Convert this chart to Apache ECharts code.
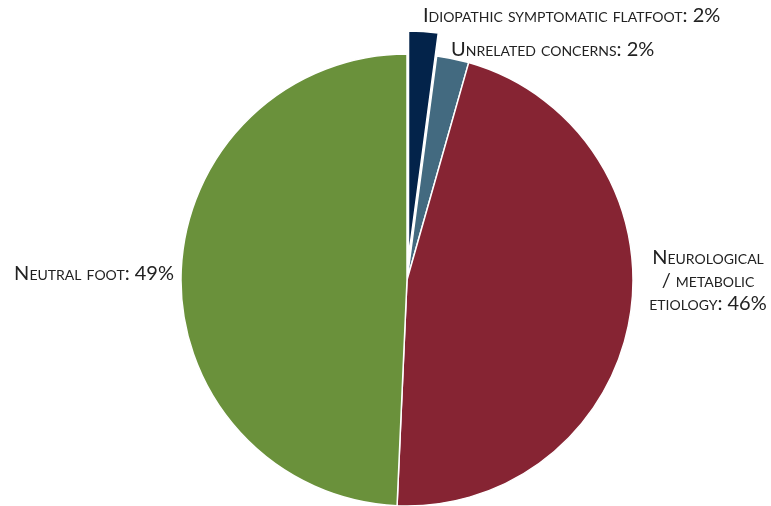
<!DOCTYPE html>
<html>
<head>
<meta charset="utf-8">
<style>
  html, body { margin: 0; padding: 0; background: #ffffff; }
  #chart { width: 771px; height: 506px; }
</style>
<script src="https://cdn.jsdelivr.net/npm/echarts@6/dist/echarts.min.js"></script>
</head>
<body>
<div id="chart"></div>
<script>
// Referral reasons, shares in percent (clockwise from 12 o'clock)
const categories = [
  'Idiopathic symptomatic flatfoot',
  'Unrelated concerns',
  'Neurological\n/ metabolic\netiology',
  'Neutral foot'
];
const shares = [2.1, 2.3, 46.3, 49.3];
const sliceColors = ['#03234a', '#436a80', '#862433', '#6a913b'];
const pulledOut = [true, false, false, false];

// Where each label sits around the pie
const labelSpots = [
  { x: 423, y: 16, align: 'left' },
  { x: 451, y: 50, align: 'left' },
  { x: 708, y: 281, align: 'center' },
  { x: 174, y: 274, align: 'right' }
];

const pieCenter = [407, 280];
const pieRadius = 226;
const pullDistance = 23;

// Direction of the pulled-out slice: middle of its angular span, measured clockwise from 12 o'clock
const total = shares.reduce((a, b) => a + b, 0);
let before = 0;
const pullIdx = pulledOut.indexOf(true);
for (let i = 0; i < pullIdx; i++) before += shares[i];
const midAngle = ((before + shares[pullIdx] / 2) / total) * 2 * Math.PI;
const pulledCenter = [
  pieCenter[0] + pullDistance * Math.sin(midAngle),
  pieCenter[1] - pullDistance * Math.cos(midAngle)
];

const hidden = { color: 'rgba(0,0,0,0)', borderWidth: 0 };

const chart = echarts.init(document.getElementById('chart'), null, { renderer: 'canvas' });

chart.setOption({
  animation: false,
  backgroundColor: '#ffffff',
  series: [
    {
      // main pie with all labels; the pulled-out slice is drawn by the second series
      type: 'pie',
      center: pieCenter,
      radius: [0, pieRadius],
      startAngle: 90,
      clockwise: true,
      avoidLabelOverlap: false,
      silent: true,
      itemStyle: { borderColor: '#ffffff', borderWidth: 1.5 },
      emphasis: { disabled: true },
      label: {
        show: true,
        position: 'outside',
        color: '#222222',
        fontFamily: 'Lato',
        fontStyle: 'small-caps',
        fontSize: 20,
        lineHeight: 23,
        formatter: p => p.name + ': ' + Math.round(p.value) + '%'
      },
      labelLine: { show: false },
      labelLayout: p => {
        const s = labelSpots[p.dataIndex];
        return { x: s.x, y: s.y, align: s.align, verticalAlign: 'middle' };
      },
      data: categories.map((name, i) => ({
        name: name,
        value: shares[i],
        itemStyle: pulledOut[i] ? hidden : { color: sliceColors[i] }
      }))
    },
    {
      // pulled-out slice, same angles, shifted centre
      type: 'pie',
      center: pulledCenter,
      radius: [0, pieRadius],
      startAngle: 90,
      clockwise: true,
      silent: true,
      itemStyle: { borderColor: '#ffffff', borderWidth: 1.5 },
      emphasis: { disabled: true },
      label: { show: false },
      labelLine: { show: false },
      data: categories.map((name, i) => ({
        name: name,
        value: shares[i],
        itemStyle: pulledOut[i] ? { color: sliceColors[i] } : hidden
      }))
    }
  ]
});
</script>
</body>
</html>
